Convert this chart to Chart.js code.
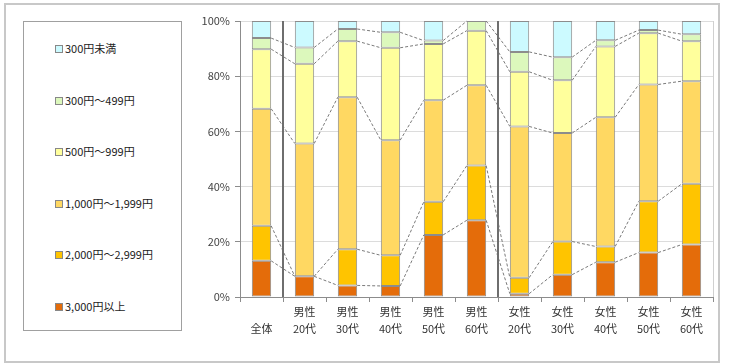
<!DOCTYPE html>
<html>
<head>
<meta charset="utf-8">
<script src="https://cdn.jsdelivr.net/npm/chart.js@4"></script>
<style>
  body { margin: 0; background: #fff; font-family: "Noto Sans CJK JP", sans-serif; }
  #frame { position: absolute; left: 4px; top: 3px; width: 712px; height: 356px; border: 2px solid #c8c8c8; }
  #chart { position: absolute; left: 0; top: 0; }
  #legend { position: absolute; left: 23px; top: 21px; width: 157px; height: 308px; border: 1px solid #a0a0a0; background: #fff; }
  .item { position: absolute; left: 31px; font-size: 11px; color: #222; line-height: 14px; white-space: nowrap; }
  .item span { display: inline-block; width: 6px; height: 6px; border: 1px solid #888; margin-right: 2px; vertical-align: 0px; }
</style>
</head>
<body>
<div id="frame"></div>
<canvas id="chart" width="730" height="364"></canvas>
<div id="legend"></div>
<script>
const categories = [
	['', '全体'],
	['男性', '20代'], ['男性', '30代'], ['男性', '40代'], ['男性', '50代'], ['男性', '60代'],
	['女性', '20代'], ['女性', '30代'], ['女性', '40代'], ['女性', '50代'], ['女性', '60代'],
];
const seriesLabels = ['3,000円以上', '2,000円～2,999円', '1,000円～1,999円', '500円～999円', '300円～499円', '300円未満'];
const over3000 = [13.1, 7.5, 4.2, 4.0, 22.5, 27.8, 1.2, 8.1, 12.6, 16.1, 19.0];
const yen2000 = [12.7, 0, 13.1, 11.1, 12.0, 19.8, 5.8, 12.0, 5.7, 18.6, 22.0];
const yen1000 = [42.4, 48.1, 55.1, 41.7, 36.8, 29.1, 54.8, 39.3, 46.8, 42.3, 37.2];
const yen500 = [21.6, 28.9, 20.3, 33.5, 20.4, 19.8, 19.8, 19.1, 25.7, 18.6, 14.5];
const yen300 = [4.0, 5.9, 4.4, 5.6, 1.2, 3.5, 7.2, 8.4, 2.2, 1.1, 2.5];
const under300 = [6.2, 9.6, 2.9, 4.1, 7.1, 0, 11.2, 13.1, 7.0, 3.3, 4.8];
const separators = [1, 6]; // group boundaries before these categories

const colors = ['#e46c0a', '#ffc400', '#ffd862', '#ffff9c', '#dcf8bc', '#ccfaff'];
const values = [over3000, yen2000, yen1000, yen500, yen300, under300];

const datasets = values.map((v, i) => ({
	label: seriesLabels[i],
	data: v,
	backgroundColor: colors[i],
	borderColor: '#8c8c8c',
	borderWidth: 1,
	borderSkipped: false,
	barPercentage: 1,
	categoryPercentage: 0.45,
}));

// dashed series lines between bars + group separators
const extras = {
	id: 'extras',
	afterDatasetsDraw(chart) {
		const c = chart.ctx;
		const x = chart.scales.x;
		const area = chart.chartArea;
		c.save();
		c.strokeStyle = '#7a7a7a';
		c.lineWidth = 1;
		c.setLineDash([3, 2]);
		chart.data.datasets.forEach((ds, i) => {
			if (i === chart.data.datasets.length - 1) return;
			const bars = chart.getDatasetMeta(i).data;
			for (let j = 0; j < bars.length - 1; j++) {
				const a = bars[j], b = bars[j + 1];
				c.beginPath();
				c.moveTo(a.x + a.width / 2, a.y);
				c.lineTo(b.x - b.width / 2, b.y);
				c.stroke();
			}
		});
		c.setLineDash([]);
		c.strokeStyle = '#6e6e6e';
		c.lineWidth = 2;
		separators.forEach((k) => {
			const px = Math.round((x.getPixelForValue(k - 1) + x.getPixelForValue(k)) / 2);
			c.beginPath();
			c.moveTo(px, area.top);
			c.lineTo(px, area.bottom);
			c.stroke();
		});
		c.strokeStyle = '#d0d0d0';
		c.lineWidth = 1;
		c.beginPath();
		c.moveTo(area.right + 0.5, area.top);
		c.lineTo(area.right + 0.5, area.bottom);
		c.stroke();
		c.restore();
	},
};

const font = { family: '"Noto Sans CJK JP", sans-serif', size: 11 };

new Chart(document.getElementById('chart'), {
	type: 'bar',
	data: { labels: categories, datasets },
	options: {
		responsive: false,
		animation: false,
		layout: { padding: { left: 190, right: 17, top: 21, bottom: 27 } },
		plugins: { legend: { display: false }, tooltip: { enabled: false } },
		scales: {
			x: {
				stacked: true,
				grid: { offset: true, drawOnChartArea: false, tickLength: 5, color: '#8c8c8c' },
				border: { color: '#8c8c8c' },
				ticks: { font: { ...font, lineHeight: 1.5 }, color: '#333', padding: 2, maxRotation: 0, autoSkip: false },
				afterFit(s) { s.height = 40; },
			},
			y: {
				stacked: true,
				min: 0,
				max: 100,
				grid: { color: '#dcdcdc', tickLength: 5, tickColor: '#8c8c8c' },
				border: { color: '#8c8c8c' },
				ticks: { stepSize: 20, font, color: '#444', padding: 5, callback: (v) => v + '%' },
				afterFit(s) { s.width = 50; },
			},
		},
	},
	plugins: [extras],
});

// legend, top entry = last series
const legend = document.getElementById('legend');
datasets.slice().reverse().forEach((ds, i) => {
	const el = document.createElement('div');
	el.className = 'item';
	el.style.top = (19 + i * 51.5) + 'px';
	el.innerHTML = `<span style="background:${ds.backgroundColor}"></span>${ds.label}`;
	legend.appendChild(el);
});
</script>
</body>
</html>
